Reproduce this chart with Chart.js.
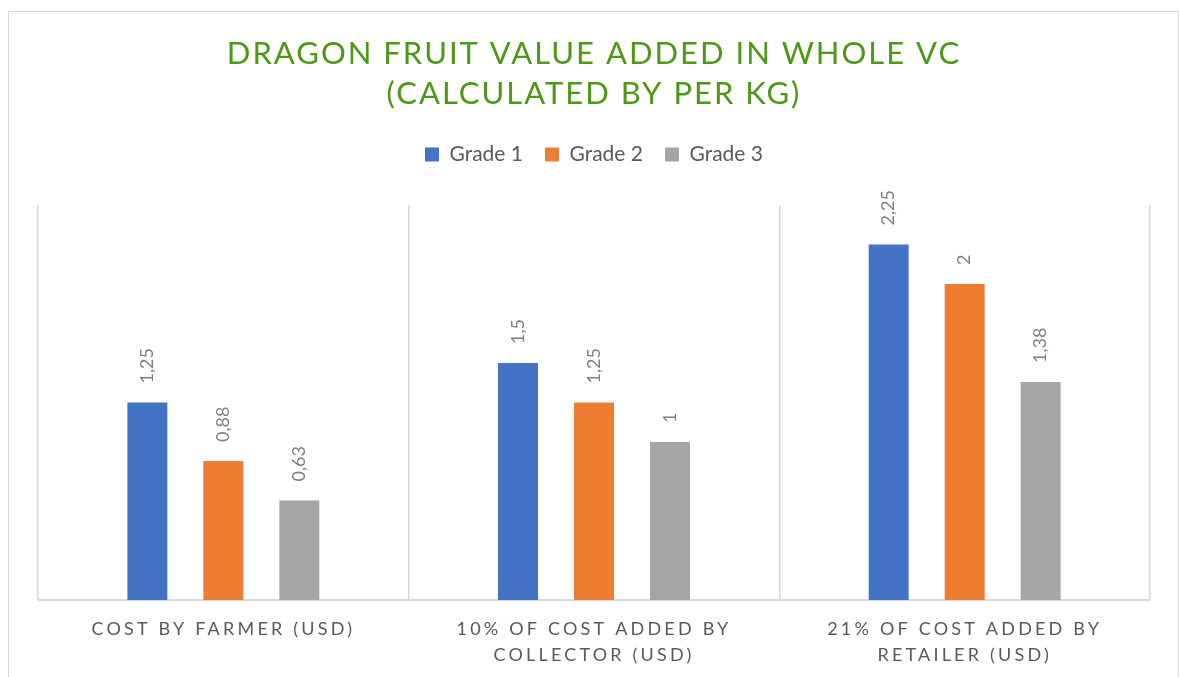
<!DOCTYPE html>
<html>
<head>
<meta charset="utf-8">
<script src="https://cdn.jsdelivr.net/npm/chart.js@4/dist/chart.umd.min.js"></script>
<style>
  html, body { margin: 0; padding: 0; background: #fff; overflow: hidden; }
  #frame { position: absolute; left: 8px; top: 11px; width: 1169px; height: 700px; border: 1px solid #d9d9d9; }
  #chart { position: absolute; left: 0; top: 0; }
</style>
</head>
<body>
<div id="frame"><canvas id="chart" width="1169" height="665"></canvas></div>
<script>
const categories = [
  ['COST BY FARMER (USD)'],
  ['10% OF COST ADDED BY', 'COLLECTOR (USD)'],
  ['21% OF COST ADDED BY', 'RETAILER (USD)'],
];
const grade1 = [1.25, 1.5, 2.25];
const grade2 = [0.88, 1.25, 2];
const grade3 = [0.63, 1, 1.38];
const seriesNames = ['Grade 1', 'Grade 2', 'Grade 3'];
const seriesColors = ['#4472C4', '#ED7D31', '#A5A5A5'];

// wraps a draw method so its text gets letter spacing
function spaceOut(obj, fn, spacing) {
  if (!obj || obj['_spaced_' + fn]) return;
  const orig = obj[fn];
  obj[fn] = function (...args) {
    const ctx = this.ctx;
    const prev = ctx.letterSpacing;
    ctx.letterSpacing = spacing;
    const r = orig.apply(this, args);
    ctx.letterSpacing = prev;
    return r;
  };
  obj['_spaced_' + fn] = true;
}

const layoutTweaks = {
  id: 'layoutTweaks',
  beforeLayout(chart) {
    const lg = chart.legend;
    if (lg && !lg._gapSet) {
      // extra room between legend and plot, like the excel chart
      const fit = lg.fit;
      lg.fit = function (...args) {
        fit.apply(this, args);
        this.height += 30;
      };
      lg._gapSet = true;
    }
    spaceOut(chart.titleBlock, 'draw', '2px');
  },
  afterLayout(chart) {
    spaceOut(chart.scales.x, 'drawLabels', '3.2px');
  },
};

const barLabels = {
  id: 'barLabels',
  afterDatasetsDraw(chart) {
    const ctx = chart.ctx;
    ctx.save();
    ctx.font = '18px Lato';
    ctx.fillStyle = '#7f7f7f';
    ctx.textAlign = 'left';
    ctx.textBaseline = 'middle';
    chart.data.datasets.forEach((ds, i) => {
      chart.getDatasetMeta(i).data.forEach((bar, j) => {
        ctx.save();
        ctx.translate(bar.x, bar.y - 19);
        ctx.rotate(-Math.PI / 2);
        ctx.fillText(String(ds.data[j]).replace('.', ','), 0, 0);
        ctx.restore();
      });
    });
    ctx.restore();
  },
};

new Chart(document.getElementById('chart'), {
  type: 'bar',
  data: {
    labels: categories,
    datasets: [grade1, grade2, grade3].map((d, i) => ({
      label: seriesNames[i],
      data: d,
      backgroundColor: seriesColors[i],
      borderWidth: 0,
      categoryPercentage: 0.615,
      barPercentage: 0.526,
    })),
  },
  options: {
    responsive: false,
    animation: false,
    layout: { padding: { left: 29, right: 28, top: 0, bottom: 0 } },
    plugins: {
      title: {
        display: true,
        text: ['DRAGON FRUIT VALUE ADDED IN WHOLE VC', '(CALCULATED BY PER KG)'],
        color: '#4C9A14',
        font: { family: 'Lato', size: 31, weight: 'normal', lineHeight: '40px' },
        padding: { top: 22, bottom: 8 },
      },
      legend: {
        position: 'top',
        labels: {
          boxWidth: 14,
          boxHeight: 14,
          padding: 22,
          color: '#595959',
          font: { family: 'Lato', size: 21 },
        },
      },
      tooltip: { enabled: false },
    },
    scales: {
      x: {
        grid: { display: true, color: '#d9d9d9', lineWidth: 1.5, drawTicks: false, offset: true },
        border: { display: true, color: '#d9d9d9', width: 2 },
        ticks: {
          color: '#595959',
          font: { family: 'Lato', size: 18, lineHeight: '26px' },
          padding: 16,
          maxRotation: 0,
          autoSkip: false,
        },
        afterFit(scale) { scale.height = 77; },
      },
      y: {
        display: false,
        min: 0,
        max: 2.5,
      },
    },
  },
  plugins: [layoutTweaks, barLabels],
});
</script>
</body>
</html>
